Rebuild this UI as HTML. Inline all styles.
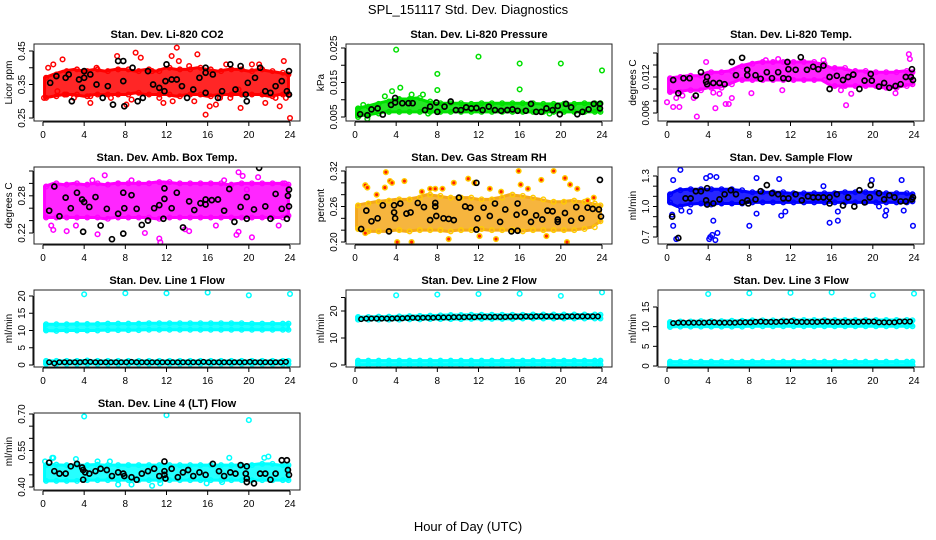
<!DOCTYPE html>
<html><head><meta charset="utf-8">
<style>
html,body{margin:0;padding:0;background:#fff;}
svg{display:block;font-family:"Liberation Sans",sans-serif;}
</style></head>
<body>
<svg id="chart" width="936" height="540" viewBox="0 0 936 540" xmlns="http://www.w3.org/2000/svg">
<text x="468" y="14" text-anchor="middle" font-size="13">SPL_151117  Std. Dev. Diagnostics</text>
<text x="468" y="531" text-anchor="middle" font-size="13">Hour of Day (UTC)</text>
</svg>
<script>
// ---------- data ----------
const hours = [0,1,2,3,4,5,6,7,8,9,10,11,12,13,14,15,16,17,18,19,20,21,22,23,24];
const xTicks = [0,4,8,12,16,20,24];

const co2Lo = [0.31,0.315,0.32,0.32,0.315,0.32,0.32,0.32,0.32,0.325,0.32,0.32,0.32,0.315,0.32,0.32,0.315,0.32,0.32,0.32,0.32,0.32,0.315,0.32,0.32];
const co2Hi = [0.37,0.38,0.39,0.395,0.39,0.395,0.39,0.395,0.395,0.39,0.395,0.39,0.40,0.395,0.395,0.40,0.395,0.39,0.395,0.395,0.39,0.395,0.39,0.385,0.38];
const co2Out = [0.1,0.31, 0.5,0.40, 1,0.41, 1.9,0.425, 4.6,0.295, 4.6,0.315, 7.2,0.435, 8.1,0.29, 9,0.445, 9.5,0.43, 11.3,0.31, 11.7,0.295, 12.5,0.435, 13,0.46, 13.2,0.42, 12.6,0.30, 14.7,0.30, 15,0.44, 15.8,0.26, 16.2,0.285, 16.8,0.29, 17.2,0.31, 18.2,0.31, 19.2,0.28, 21.6,0.295, 22.6,0.31, 23,0.285, 23.4,0.42, 23.6,0.31, 24,0.25, 3,0.31, 2.1,0.32, 6.6,0.31, 10.6,0.39, 20.3,0.41, 5.2,0.40, 17.8,0.41, 1.4,0.33, 8.6,0.305, 14.2,0.405, 19,0.335, 21,0.41];
const co2Blk = [0.7,0.355, 1.3,0.375, 2.2,0.37, 2.5,0.38, 2.8,0.30, 3.5,0.365, 3.8,0.34, 4,0.39, 4,0.37, 4.6,0.38, 5.2,0.35, 5.8,0.31, 6.3,0.345, 6.8,0.29, 7.3,0.42, 7.8,0.42, 7.8,0.36, 7.9,0.285, 8.7,0.40, 9.2,0.30, 9.7,0.31, 10.2,0.39, 10.7,0.35, 11.3,0.34, 11.8,0.33, 11.9,0.36, 12,0.41, 12.5,0.365, 13,0.365, 13.5,0.345, 14,0.31, 14.6,0.335, 15.2,0.37, 15.8,0.40, 15.8,0.385, 15.8,0.325, 16.5,0.38, 17,0.31, 17.4,0.33, 18.2,0.41, 18.7,0.335, 19.2,0.405, 19.7,0.32, 19.8,0.30, 19.9,0.355, 20.6,0.37, 21.1,0.40, 21.6,0.33, 22.1,0.325, 22.6,0.345, 23.2,0.36, 23.7,0.33, 23.9,0.39, 23.9,0.32];

const prsLo = [0.0055,0.0055,0.006,0.0065,0.0065,0.0065,0.0065,0.0065,0.0065,0.0065,0.0065,0.0065,0.0065,0.0065,0.0065,0.0065,0.0065,0.0065,0.0065,0.0065,0.0065,0.0065,0.0065,0.0065,0.0065];
const prsHi = [0.0075,0.008,0.0088,0.0095,0.0102,0.0102,0.0105,0.0095,0.009,0.009,0.009,0.0088,0.009,0.009,0.009,0.009,0.009,0.009,0.0088,0.0088,0.0088,0.0088,0.009,0.009,0.009];
const prsOut = [4,0.0245, 12,0.0225, 16,0.0205, 20,0.0205, 24,0.0185, 8,0.0175, 8,0.0128, 16,0.0130, 4.4,0.0135, 3.6,0.0125, 1.2,0.0045, 0.3,0.005, 5.5,0.0115, 6.6,0.0115, 2.9,0.011, 0.8,0.0085, 7.1,0.006, 18.9,0.006];
const prsBlk = [0.5,0.0058, 1.2,0.0055, 1.6,0.0072, 2.2,0.0075, 2.7,0.0057, 3.5,0.0085, 3.9,0.0092, 3.9,0.0105, 4.6,0.009, 5.2,0.009, 5.6,0.009, 6.8,0.007, 7.3,0.008, 7.9,0.0092, 8,0.0065, 8.7,0.008, 9.3,0.0095, 9.8,0.007, 10.3,0.007, 10.8,0.0078, 11.3,0.0075, 11.8,0.0076, 12.4,0.007, 13,0.008, 13.6,0.007, 14.2,0.0068, 14.8,0.007, 15.3,0.0072, 15.8,0.0068, 16.6,0.0068, 17.1,0.0088, 17.6,0.0065, 18.1,0.0065, 18.6,0.0075, 19.2,0.007, 19.7,0.0082, 19.9,0.0058, 20.5,0.0088, 21,0.0078, 21.6,0.0058, 22.1,0.0065, 22.7,0.0072, 23.2,0.0088, 23.8,0.0088, 23.8,0.0075];

const tmpLo = [0.0095,0.0095,0.0098,0.0098,0.0102,0.0102,0.0108,0.0115,0.0115,0.0115,0.0115,0.0115,0.0115,0.0115,0.0115,0.0115,0.0105,0.0105,0.0105,0.0105,0.0105,0.0102,0.0102,0.0105,0.0108];
const tmpHi = [0.0118,0.012,0.0122,0.0122,0.0128,0.0128,0.013,0.0138,0.0142,0.0145,0.0145,0.0145,0.0145,0.0145,0.0145,0.0142,0.0135,0.0135,0.013,0.013,0.0128,0.0128,0.0128,0.013,0.0128];
const tmpOut = [0,0.0078, 0.6,0.0070, 1.2,0.0070, 0.9,0.0085, 1.5,0.0089, 2.9,0.0054, 2.6,0.0085, 4.7,0.0068, 5.7,0.0075, 6,0.0075, 6.3,0.0085, 8.2,0.0093, 9.6,0.0148, 11.2,0.0098, 17.4,0.0073, 17.9,0.0092, 22.2,0.0093, 23.5,0.0158, 23.6,0.0150, 3.8,0.0145, 4.5,0.0094, 5.1,0.0092, 10.8,0.015, 15.2,0.0148, 16.9,0.0098];
const tmpBlk = [0.6,0.0115, 1.1,0.0093, 1.6,0.0118, 2.2,0.0118, 2.8,0.0089, 3.3,0.0128, 3.8,0.0112, 3.9,0.0120, 3.9,0.0108, 4.5,0.011, 5.1,0.011, 5.6,0.0108, 6.3,0.0145, 6.7,0.0123, 7.3,0.0152, 7.8,0.0123, 7.8,0.0132, 8.6,0.0123, 9.1,0.0117, 9.7,0.0128, 10.2,0.0118, 10.8,0.0128, 11.3,0.0118, 11.8,0.0117, 11.8,0.0133, 11.7,0.0145, 12.5,0.0132, 13,0.0153, 13.6,0.0132, 14.2,0.0137, 14.7,0.0133, 15.2,0.0139, 15.8,0.0120, 15.8,0.0100, 16.5,0.0122, 17.1,0.0115, 17.6,0.0120, 18.1,0.0124, 18.7,0.0100, 19.2,0.0114, 19.8,0.0125, 19.9,0.0114, 20.6,0.0104, 21.1,0.011, 21.6,0.0102, 22.2,0.0105, 22.7,0.0108, 23.2,0.0120, 23.7,0.0120, 23.8,0.0133, 23.9,0.0115];

const ambLo = [0.245,0.245,0.245,0.245,0.245,0.245,0.243,0.245,0.245,0.245,0.245,0.243,0.245,0.245,0.245,0.245,0.245,0.245,0.245,0.245,0.245,0.245,0.245,0.245,0.248];
const ambHi = [0.295,0.30,0.298,0.30,0.298,0.30,0.298,0.30,0.30,0.30,0.30,0.302,0.302,0.30,0.30,0.30,0.30,0.30,0.298,0.30,0.30,0.30,0.30,0.30,0.298];
const ambOut = [1,0.225, 2.3,0.223, 5.3,0.218, 6,0.313, 7.3,0.30, 11.3,0.211, 11.4,0.205, 11.7,0.30, 19,0.318, 19.4,0.312, 19.8,0.29, 20.3,0.213, 18.8,0.217, 19,0.222, 20.9,0.31, 16.8,0.232, 23.5,0.30, 9.9,0.22, 0.8,0.232, 3.2,0.232, 4.8,0.305, 8.6,0.305, 13.8,0.226, 14.2,0.223, 17.6,0.305, 22.9,0.232];
const ambBlk = [0.6,0.256, 1.1,0.295, 1.6,0.247, 2.2,0.277, 2.7,0.26, 3.3,0.285, 3.8,0.274, 3.9,0.222, 4,0.270, 4.5,0.262, 5.1,0.278, 5.6,0.232, 6.2,0.259, 6.7,0.21, 7.3,0.251, 7.8,0.285, 7.9,0.26, 7.8,0.219, 8.6,0.281, 9.1,0.259, 9.6,0.233, 10.2,0.240, 10.8,0.26, 11.3,0.265, 11.7,0.243, 11.8,0.292, 11.8,0.275, 12.5,0.26, 13,0.285, 13.6,0.229, 14.2,0.271, 14.7,0.257, 15.3,0.268, 15.8,0.274, 15.8,0.266, 16.4,0.273, 17,0.274, 17.6,0.256, 18.1,0.291, 18.6,0.238, 19.2,0.262, 19.8,0.278, 19.8,0.243, 20.5,0.258, 21,0.325, 21.6,0.263, 22.1,0.243, 22.6,0.283, 23.2,0.259, 23.7,0.243, 23.8,0.28, 23.9,0.263, 23.9,0.29];

const rhLo = [0.222,0.218,0.218,0.218,0.22,0.218,0.22,0.22,0.22,0.218,0.22,0.22,0.222,0.22,0.22,0.22,0.218,0.22,0.22,0.22,0.22,0.22,0.222,0.225,0.235];
const rhHi = [0.262,0.265,0.268,0.27,0.272,0.272,0.275,0.28,0.278,0.275,0.275,0.275,0.272,0.272,0.275,0.28,0.278,0.275,0.272,0.268,0.268,0.27,0.268,0.265,0.262];
const rhOut = [1,0.296, 1.2,0.292, 2.1,0.28, 3,0.318, 3.4,0.303, 3.6,0.30, 4.1,0.20, 4.8,0.303, 5.5,0.20, 7.3,0.29, 7.8,0.29, 8.5,0.29, 9.6,0.30, 11,0.307, 11.6,0.30, 12.1,0.21, 13.1,0.29, 15.9,0.32, 16.1,0.297, 16.8,0.29, 18.1,0.305, 19.3,0.32, 20.4,0.308, 20.6,0.20, 20.9,0.297, 21.6,0.29, 22.6,0.27, 23.2,0.275, 14.2,0.285, 9.1,0.205, 1,0.215, 13.7,0.205, 2.9,0.292, 6.5,0.285, 18.6,0.21];
const rhBlk = [0.6,0.222, 1.1,0.253, 1.6,0.235, 2.2,0.24, 2.7,0.262, 3.3,0.218, 3.8,0.262, 3.8,0.25, 3.9,0.24, 4.4,0.265, 5,0.248, 5.4,0.25, 6.1,0.266, 6.7,0.259, 7.3,0.237, 7.8,0.26, 7.8,0.266, 7.9,0.244, 8.6,0.24, 9.1,0.239, 9.6,0.237, 10.1,0.275, 10.7,0.26, 11.2,0.258, 11.8,0.30, 11.8,0.221, 11.9,0.24, 12.5,0.258, 13.1,0.244, 13.6,0.265, 14.1,0.234, 14.6,0.255, 15.2,0.218, 15.7,0.246, 15.8,0.219, 15.8,0.265, 16.5,0.25, 17.1,0.234, 17.6,0.245, 18.2,0.238, 18.7,0.253, 19.2,0.252, 19.7,0.238, 19.7,0.234, 20.4,0.249, 21,0.236, 21.5,0.259, 22,0.24, 22.6,0.258, 23.1,0.256, 23.7,0.255, 23.8,0.305, 23.9,0.243];

const sfLo = [1.04,1.0,1.02,1.03,1.02,1.03,1.03,1.03,1.04,1.04,1.04,1.04,1.04,1.04,1.04,1.04,1.04,1.04,1.04,1.04,1.04,1.04,1.04,1.04,1.05];
const sfHi = [1.12,1.16,1.17,1.17,1.17,1.17,1.17,1.16,1.14,1.14,1.14,1.14,1.13,1.13,1.13,1.13,1.13,1.14,1.14,1.14,1.14,1.13,1.13,1.13,1.12];
const sfOut = [1.3,1.36, 0.6,1.26, 0.5,0.92, 0.6,0.81, 0.9,0.68, 1.4,0.96, 2.2,0.95, 3.8,1.28, 4.2,1.30, 4.8,1.29, 4.5,0.86, 4.2,0.70, 4.4,0.72, 4.7,0.67, 4.9,0.74, 4.1,0.68, 8,0.81, 8.7,0.93, 8.7,1.28, 10.9,1.27, 11.1,0.91, 11.5,0.95, 15.2,1.2, 15.8,0.84, 16.6,0.86, 16.6,0.95, 19.9,1.26, 21.2,0.91, 21.3,0.96, 22.8,1.26, 23,0.96, 23.9,0.81, 20.6,1.0];
const sfBlk = [0.5,0.90, 1.1,0.69, 1.8,1.08, 2.3,1.08, 2.8,1.15, 3.3,1.15, 3.8,1.06, 3.9,1.02, 3.9,1.18, 4.5,1.03, 5.1,1.07, 5.6,1.12, 6.2,1.16, 6.7,1.12, 7.3,1.04, 7.8,1.06, 7.9,1.03, 8.6,1.07, 9.1,1.15, 9.7,1.21, 10.2,1.13, 10.8,1.12, 11.3,1.08, 11.8,1.08, 12.5,1.12, 13.1,1.06, 13.7,1.10, 14.2,1.09, 14.7,1.09, 15.2,1.09, 15.8,1.09, 15.8,1.03, 16.5,1.12, 17.1,1.01, 17.6,1.09, 18.2,1.0, 18.7,1.16, 19.2,1.04, 19.7,1.09, 19.8,1.21, 20.6,1.13, 21.1,1.07, 21.6,1.11, 22.1,1.09, 22.7,1.05, 23.2,1.05, 23.8,1.07, 23.9,1.09];

const l1Lo = [10.0,9.9,10.0,10.0,10.0,10.0,10.1,10.1,10.1,10.1,10.2,10.2,10.2,10.2,10.2,10.2,10.2,10.2,10.2,10.2,10.2,10.2,10.2,10.2,10.2];
const l1Hi = [11.8,11.8,11.8,11.9,11.9,11.9,12.0,12.0,12.0,12.0,12.1,12.1,12.1,12.1,12.1,12.1,12.1,12.1,12.1,12.1,12.0,12.0,12.0,12.0,12.0];
const l1Lo2 = [0.3,0.3,0.3,0.3,0.3,0.3,0.3,0.3,0.3,0.3,0.3,0.3,0.3,0.3,0.3,0.3,0.3,0.3,0.3,0.3,0.3,0.3,0.3,0.3,0.3];
const l1Hi2 = [1.2,1.2,1.2,1.2,1.3,1.2,1.2,1.2,1.2,1.2,1.2,1.2,1.2,1.2,1.2,1.2,1.2,1.2,1.2,1.2,1.2,1.2,1.2,1.2,1.2];
const l1Out = [4,20.5, 8,20.8, 12,20.8, 16,21.0, 20,20.2, 24,20.6];
const l1Blk = [0.8,0.5,0.8,0.8,0.8,0.8,0.8,0.9,0.9,0.8,0.8,0.8,0.8,0.8,0.8,0.8,0.9,0.8,0.8,0.8,0.8,0.8,0.8,0.8,0.8,0.8,0.8,0.8,0.8,0.8,0.9,0.8,0.8,0.8,0.8,0.8,0.8,0.8,0.8,0.9,0.8,0.8,0.8,0.8,0.8,0.8,0.9];

const l2Lo = [16.8,16.8,16.8,16.8,16.8,16.9,16.9,17.0,17.0,17.0,17.0,17.1,17.1,17.1,17.1,17.1,17.2,17.2,17.2,17.2,17.2,17.2,17.2,17.2,17.2];
const l2Hi = [17.8,17.8,17.9,17.9,18.0,18.1,18.2,18.3,18.4,18.5,18.5,18.6,18.6,18.6,18.6,18.6,18.6,18.7,18.7,18.7,18.7,18.7,18.7,18.7,18.6];
const l2Lo2 = [0.1,0.1,0.1,0.1,0.1,0.1,0.1,0.1,0.1,0.1,0.1,0.1,0.1,0.1,0.1,0.1,0.1,0.1,0.1,0.1,0.1,0.1,0.1,0.1,0.1];
const l2Hi2 = [1.6,1.6,1.6,1.6,1.6,1.6,1.6,1.6,1.6,1.6,1.6,1.6,1.6,1.6,1.6,1.6,1.6,1.6,1.6,1.6,1.6,1.6,1.6,1.6,1.6];
const l2Out = [4,25.8, 8,26.1, 12,26.3, 16,26.4, 20,25.6, 24,26.9];
const l2Blk = [17.0,17.2,17.2,17.2,17.2,17.2,17.2,17.3,17.3,17.4,17.5,17.4,17.5,17.5,17.5,17.6,17.6,17.6,17.7,17.7,17.7,17.8,17.7,17.9,17.8,17.8,17.8,17.8,17.8,17.9,17.9,17.9,18.0,17.9,18.0,18.0,18.0,18.0,17.9,17.9,18.0,18.0,18.0,18.0,18.0,18.0,18.0];

const l3Lo = [9.9,10.0,10.0,10.0,10.0,10.0,10.0,10.0,10.1,10.1,10.1,10.1,10.1,10.1,10.1,10.1,10.1,10.1,10.1,10.1,10.1,10.1,10.1,10.1,10.1];
const l3Hi = [11.2,11.3,11.3,11.4,11.4,11.4,11.5,11.5,11.6,11.6,11.6,11.6,11.7,11.7,11.7,11.7,11.7,11.7,11.7,11.7,11.7,11.7,11.7,11.7,11.6];
const l3Lo2 = [0.2,0.2,0.2,0.2,0.2,0.2,0.2,0.2,0.2,0.2,0.2,0.2,0.2,0.2,0.2,0.2,0.2,0.2,0.2,0.2,0.2,0.2,0.2,0.2,0.2];
const l3Hi2 = [1.1,1.1,1.1,1.1,1.1,1.1,1.1,1.1,1.1,1.1,1.1,1.1,1.1,1.1,1.1,1.1,1.1,1.1,1.1,1.1,1.1,1.1,1.1,1.1,1.1];
const l3Out = [4,18.3, 8,18.5, 12,18.6, 16,18.7, 20,18.0, 24,18.4];
const l3Blk = [10.9,11.0,11.0,11.0,11.0,11.0,11.0,11.1,11.1,11.0,11.0,11.0,11.0,11.1,11.1,11.1,11.2,11.3,11.2,11.2,11.2,11.3,11.3,11.4,11.2,11.2,11.2,11.2,11.2,11.3,11.3,11.2,11.2,11.2,11.2,11.2,11.2,11.3,11.3,11.3,11.1,11.1,11.1,11.1,11.3,11.3,11.3];

const l4Lo = [0.425,0.425,0.425,0.425,0.428,0.428,0.428,0.428,0.428,0.428,0.428,0.428,0.428,0.428,0.428,0.428,0.428,0.428,0.428,0.428,0.428,0.428,0.428,0.428,0.428];
const l4Hi = [0.49,0.492,0.49,0.49,0.49,0.492,0.49,0.49,0.49,0.49,0.49,0.49,0.49,0.49,0.49,0.49,0.49,0.49,0.49,0.49,0.49,0.495,0.495,0.49,0.49];
const l4Out = [4,0.69, 12,0.695, 20,0.675, 1,0.52, 3.2,0.515, 5.3,0.505, 10.6,0.405, 7.3,0.41, 8.6,0.41, 11.4,0.415, 18.1,0.52, 21.5,0.52, 21.9,0.525, 15.9,0.415, 17.4,0.42, 0.9,0.52, 6.5,0.505, 0.2,0.505];
const l4Blk = [0.6,0.50, 1.1,0.465, 1.6,0.455, 2.2,0.455, 2.7,0.485, 3.3,0.495, 3.8,0.48, 3.9,0.47, 3.9,0.43, 4.1,0.46, 4.5,0.455, 5.1,0.465, 5.6,0.475, 6.2,0.47, 6.7,0.445, 7.3,0.46, 7.8,0.455, 7.9,0.445, 8.6,0.44, 9.1,0.43, 9.6,0.455, 10.2,0.465, 10.8,0.475, 11.3,0.445, 11.8,0.505, 11.8,0.465, 11.8,0.45, 11.9,0.435, 12.5,0.475, 13.1,0.44, 13.6,0.46, 14.1,0.47, 14.6,0.445, 15.2,0.46, 15.8,0.45, 16.5,0.495, 17.1,0.465, 17.6,0.445, 18.2,0.46, 18.7,0.455, 19.2,0.49, 19.7,0.455, 19.8,0.485, 19.8,0.42, 19.8,0.435, 20.5,0.415, 21.1,0.455, 21.6,0.455, 22.1,0.43, 22.6,0.455, 23.2,0.51, 23.7,0.51, 23.8,0.47, 23.9,0.45];

const co2Ticks=[0.25,0.30,0.35,0.40,0.45], co2Labels=["0.25","","0.35","","0.45"];
const prsTicks=[0.005,0.010,0.015,0.020,0.025], prsLabels=["0.005","","0.015","","0.025"];
const tmpTicks=[0.006,0.008,0.010,0.012,0.014,0.016], tmpLabels=["0.006","","","0.012","",""];
const ambTicks=[0.22,0.24,0.26,0.28,0.30,0.32], ambLabels=["0.22","","","0.28","",""];
const rhTicks=[0.20,0.22,0.24,0.26,0.28,0.30,0.32], rhLabels=["0.20","","","0.26","","","0.32"];
const sfTicks=[0.7,0.8,0.9,1.0,1.1,1.2,1.3], sfLabels=["0.7","","","1.0","","","1.3"];
const l1Ticks=[0,5,10,15,20], l1Labels=["0","5","10","15","20"];
const l2Ticks=[0,10,20,25], l2Labels=["0","10","20",""];
const l3Ticks=[0,5,10,15], l3Labels=["0","5","10","15"];
const l4Ticks=[0.40,0.45,0.50,0.55,0.60,0.65,0.70], l4Labels=["0.40","","","0.55","","","0.70"];

// ---------- layout (positions, not data) ----------
const colBox=[34,346,658], colX0=[43,355,667], xSpan=247, boxW=266;
const rowTop=[44,167,290,413], boxH=77;
const panels=[
 {key:'co2',title:'Stan. Dev. Li-820 CO2',ylab:'Licor ppm',c:0,r:0,a:[0.25,118,0.45,51],col:'#ff0000',lo:co2Lo,hi:co2Hi,out:co2Out,blk:co2Blk,blkMode:'pairs',ticks:co2Ticks,labels:co2Labels},
 {key:'pressure',title:'Stan. Dev. Li-820 Pressure',ylab:'kPa',c:1,r:0,a:[0.005,117,0.025,48],col:'#00e000',lo:prsLo,hi:prsHi,out:prsOut,blk:prsBlk,blkMode:'pairs',ticks:prsTicks,labels:prsLabels},
 {key:'temp',title:'Stan. Dev. Li-820 Temp.',ylab:'degrees C',c:2,r:0,a:[0.006,113,0.016,53],col:'#ff00ff',lo:tmpLo,hi:tmpHi,out:tmpOut,blk:tmpBlk,blkMode:'pairs',ticks:tmpTicks,labels:tmpLabels},
 {key:'ambtemp',title:'Stan. Dev. Amb. Box Temp.',ylab:'degrees C',c:0,r:1,a:[0.22,233,0.32,171],col:'#ff00ff',lo:ambLo,hi:ambHi,out:ambOut,blk:ambBlk,blkMode:'pairs',ticks:ambTicks,labels:ambLabels},
 {key:'rh',title:'Stan. Dev. Gas Stream RH',ylab:'percent',c:1,r:1,a:[0.20,242,0.32,171],col:'#f4a81c',ptCol:'#ffcc00',ptIn:'#ff2000',lo:rhLo,hi:rhHi,out:rhOut,blk:rhBlk,blkMode:'pairs',ticks:rhTicks,labels:rhLabels},
 {key:'sampleflow',title:'Stan. Dev. Sample Flow',ylab:'ml/min',c:2,r:1,a:[0.7,237,1.3,176],col:'#0000ff',lo:sfLo,hi:sfHi,out:sfOut,blk:sfBlk,blkMode:'pairs',ticks:sfTicks,labels:sfLabels},
 {key:'line1',title:'Stan. Dev. Line 1 Flow',ylab:'ml/min',c:0,r:2,a:[0,365,20,296],col:'#00ffff',lo:l1Lo,hi:l1Hi,lo2:l1Lo2,hi2:l1Hi2,out:l1Out,blk:l1Blk,blkMode:'series',ticks:l1Ticks,labels:l1Labels},
 {key:'line2',title:'Stan. Dev. Line 2 Flow',ylab:'ml/min',c:1,r:2,a:[0,365,20,311],col:'#00ffff',lo:l2Lo,hi:l2Hi,lo2:l2Lo2,hi2:l2Hi2,out:l2Out,blk:l2Blk,blkMode:'series',ticks:l2Ticks,labels:l2Labels},
 {key:'line3',title:'Stan. Dev. Line 3 Flow',ylab:'ml/min',c:2,r:2,a:[0,366,15,307],col:'#00ffff',lo:l3Lo,hi:l3Hi,lo2:l3Lo2,hi2:l3Hi2,out:l3Out,blk:l3Blk,blkMode:'series',ticks:l3Ticks,labels:l3Labels},
 {key:'line4',title:'Stan. Dev. Line 4 (LT) Flow',ylab:'ml/min',c:0,r:3,a:[0.40,487,0.70,414],col:'#00ffff',lo:l4Lo,hi:l4Hi,out:l4Out,blk:l4Blk,blkMode:'pairs',ticks:l4Ticks,labels:l4Labels}
];

const NS='http://www.w3.org/2000/svg';
const svg=document.getElementById('chart');
function mk(tag,attrs,parent){const e=document.createElementNS(NS,tag);for(const k in attrs)e.setAttribute(k,attrs[k]);(parent||svg).appendChild(e);return e;}

panels.forEach(p=>{
  const bx=colBox[p.c], by=rowTop[p.r], x0=colX0[p.c];
  const xs=v=>x0+v*xSpan/24;
  const ys=v=>p.a[1]+(v-p.a[0])*(p.a[3]-p.a[1])/(p.a[2]-p.a[0]);
  const g=mk('g',{});
  
  
  const clip=mk('clipPath',{id:'clip-'+p.key},g);
  mk('rect',{x:bx,y:by,width:boxW,height:boxH},clip);
  const pg=mk('g',{'clip-path':'url(#clip-'+p.key+')'},g);
  
  
  const bands=[[p.lo,p.hi]]; if(p.lo2) bands.push([p.lo2,p.hi2]);
  bands.forEach(b=>{
    let pts=hours.map((h,i)=>xs(Math.max(0.15,Math.min(23.85,h)))+','+ys(b[1][i]));
    pts=pts.concat(hours.slice().reverse().map((h,j)=>{const i=hours.length-1-j;return xs(Math.max(0.15,Math.min(23.85,h)))+','+ys(b[0][i]);}));
    const poly=mk('polygon',{points:pts.join(' '),fill:p.col,'fill-opacity':0.85,stroke:p.col,'stroke-width':3,'stroke-linejoin':'round'},pg);
    
    
    hours.forEach((h,i)=>{
      [b[0][i],b[1][i]].forEach(v=>{
        const c=mk('circle',{cx:xs(Math.max(0.15,Math.min(23.85,h+0.3))),cy:ys(v),r:2.3,fill:'none',stroke:p.ptCol||p.col,'stroke-width':1.4},pg);
        
        
      });
    });
  });
  for(let i=0;i<p.out.length;i+=2){
    const c=mk('circle',{cx:xs(p.out[i]),cy:ys(p.out[i+1]),r:2.3,fill:p.ptIn||'none',stroke:p.ptCol||p.col,'stroke-width':1.5},pg);
    
    
  }
  if(p.blkMode==='pairs'){
    for(let i=0;i<p.blk.length;i+=2){
      const c=mk('circle',{cx:xs(p.blk[i]),cy:ys(p.blk[i+1]),r:2.5,fill:'none',stroke:'#000','stroke-width':1.7},pg);
      
      
    }
  } else {
    p.blk.forEach((v,i)=>{
      const c=mk('circle',{cx:xs(0.6+i*0.5),cy:ys(v),r:2.3,fill:'none',stroke:'#000','stroke-width':1.5},pg);
      
      
    });
  }
  const fr=mk('rect',{x:bx,y:by,width:boxW,height:boxH,fill:'none',stroke:'#222','stroke-width':1},g);
  
  
  const xa=mk('g',{},g);
  
  
  mk('line',{x1:xs(0),x2:xs(24),y1:by+boxH+1,y2:by+boxH+1,stroke:'#000'},xa);
  xTicks.forEach(t=>{
    mk('line',{x1:xs(t),x2:xs(t),y1:by+boxH+1,y2:by+boxH+5,stroke:'#000'},xa);
    const tx=mk('text',{x:xs(t),y:by+boxH+17,'text-anchor':'middle','font-size':10},xa);
    
    
    tx.textContent=t;
  });
  const ya=mk('g',{},g);
  
  
  const yt0=ys(p.ticks[0]), yt1=ys(p.ticks[p.ticks.length-1]);
  mk('line',{x1:bx-1,x2:bx-1,y1:yt0,y2:yt1,stroke:'#000'},ya);
  p.ticks.forEach((t,i)=>{
    const y=ys(t);
    mk('line',{x1:bx-5,x2:bx-1,y1:y,y2:y,stroke:'#000'},ya);
    if(p.labels[i]){
      const tx=mk('text',{x:0,y:0,'text-anchor':'middle','font-size':10,transform:'translate('+(bx-9)+','+y+') rotate(-90)'},ya);
      
      
      tx.textContent=p.labels[i];
    }
  });
  const yl=mk('text',{x:0,y:0,'text-anchor':'middle','font-size':10,transform:'translate('+(bx-22)+','+(by+boxH/2)+') rotate(-90)'},g);
  
  
  yl.textContent=p.ylab;
  const tt=mk('text',{x:bx+boxW/2,y:by-6,'text-anchor':'middle','font-size':11,'font-weight':'bold'},g);
  
  
  tt.textContent=p.title;
});
</script>
</body></html>
